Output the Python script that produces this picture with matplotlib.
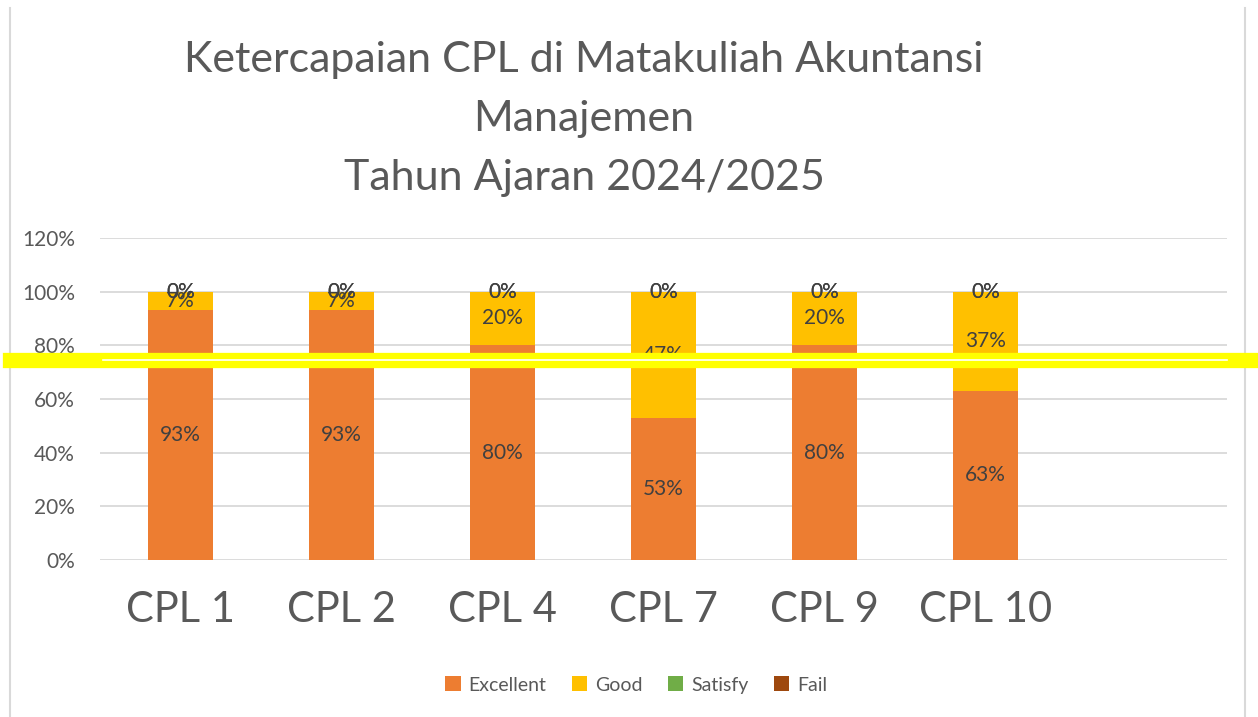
import matplotlib
matplotlib.use("Agg")
import matplotlib.pyplot as plt
import matplotlib.transforms as mtransforms
from matplotlib.lines import Line2D
import numpy as np

# data (shares of students per CPL)
categories = ["CPL 1", "CPL 2", "CPL 4", "CPL 7", "CPL 9", "CPL 10", ""]
excellent = [0.93, 0.93, 0.80, 0.53, 0.80, 0.63, 0.0]
good = [0.07, 0.07, 0.20, 0.47, 0.20, 0.37, 0.0]
satisfy = [0.0, 0.0, 0.0, 0.0, 0.0, 0.0, 0.0]
fail = [0.0, 0.0, 0.0, 0.0, 0.0, 0.0, 0.0]
n_real = 6
target = 0.745
y_ticks = [0, 0.2, 0.4, 0.6, 0.8, 1.0, 1.2]

series = [("Excellent", excellent, "#ED7D31"),
          ("Good", good, "#FFC000"),
          ("Satisfy", satisfy, "#70AD47"),
          ("Fail", fail, "#9E480E")]

plt.rcParams["font.family"] = ["Lato", "DejaVu Sans"]
TXT = "#595959"
LBL = "#404040"

fig = plt.figure(figsize=(12.58, 7.17), dpi=100)
ax = fig.add_axes([100 / 1258, 1 - 560 / 717, 1127 / 1258, 322 / 717])

x = np.arange(len(categories))
bottom = np.zeros(len(categories))
for name, vals, col in series:
    vals = np.array(vals)
    ax.bar(x, vals, 0.4, bottom=bottom, color=col, label=name, zorder=2)
    for i in range(n_real):
        ax.text(x[i], bottom[i] + vals[i] / 2, f"{vals[i] * 100:.0f}%",
                ha="center", va="center", fontsize=15, color=LBL, zorder=3)
    bottom += vals

ax.set_xlim(-0.5, len(categories) - 0.5)
ax.set_ylim(0, 1.2)
ax.set_yticks(y_ticks)
ax.set_yticklabels([f"{t * 100:.0f}%" for t in y_ticks])
ax.set_xticks(x)
ax.set_xticklabels(categories)
ax.tick_params(axis="y", length=0, labelsize=15, labelcolor=TXT, pad=18)
ax.tick_params(axis="x", length=0, labelsize=30, labelcolor=TXT, pad=22)
ax.grid(axis="y", color="#D9D9D9", linewidth=1.3, zorder=0)
for s in ax.spines.values():
    s.set_visible(False)

# highlighted target band across the whole chart
tr = mtransforms.blended_transform_factory(fig.transFigure, ax.transData)
fig.add_artist(Line2D([10 / 1258, 1.0], [target, target], transform=tr,
                      color="#FFFF00", linewidth=11, zorder=5))
fig.add_artist(Line2D([103 / 1258, 1227 / 1258], [target, target], transform=tr,
                      color="white", linewidth=1.2, zorder=6))

# chart area side borders
for xb in (10 / 1258, 1245 / 1258):
    fig.add_artist(Line2D([xb, xb], [0, 1 - 8 / 717], transform=fig.transFigure,
                          color="#D9D9D9", linewidth=1.5))

title = ["Ketercapaian CPL di Matakuliah Akuntansi", "Manajemen",
         "Tahun Ajaran 2024/2025"]
for k, line in enumerate(title):
    fig.text(584 / 1258, 1 - (60 + 59 * k) / 717, line, ha="center",
             va="center", fontsize=31, color=TXT)

ax.legend(loc="center", bbox_to_anchor=(636 / 1258, 1 - 685 / 717),
          bbox_transform=fig.transFigure, ncol=4, frameon=False,
          fontsize=14, labelcolor=TXT, handlelength=0.8, handleheight=0.8,
          handletextpad=0.4, columnspacing=1.3)

fig.savefig("out.png", dpi=100)
